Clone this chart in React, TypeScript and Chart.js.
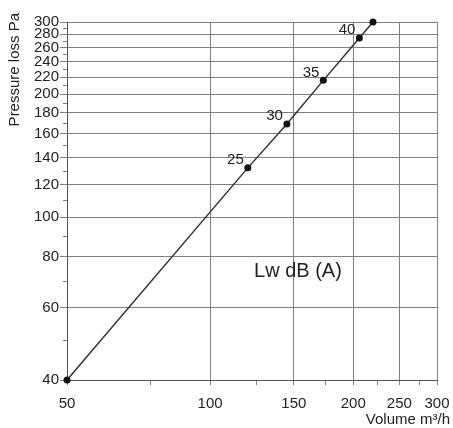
import React, { useEffect, useRef } from "react";
import { Chart, registerables } from "chart.js";

Chart.register(...registerables);

// Data
const volume = [50, 120, 145, 173, 206, 220]; // m³/h
const pressure = [40, 132, 169, 216, 274, 300]; // Pa
const pointLabels = ["", "25", "30", "35", "40", ""]; // Lw dB (A)

const xTicks = [50, 75, 100, 125, 150, 175, 200, 225, 250, 275, 300];
const xLabelled = [50, 100, 150, 200, 250, 300];
const yTicks = [40, 50, 60, 70, 80, 90, 100, 110, 120, 130, 140, 150, 160, 170, 180, 190, 200, 210, 220, 230, 240, 250, 260, 270, 280, 290, 300];
const yLabelled = [40, 60, 80, 100, 120, 140, 160, 180, 200, 220, 240, 260, 280, 300];

const xTitle = "Volume m³/h";
const yTitle = "Pressure loss Pa";
const noteText = "Lw dB (A)";
const noteAt = { x: 153, y: 73.5 };

const FONT = '"Liberation Sans", Arial, sans-serif';
const TEXT = "#222";
const GRID = "#7f7f7f";

export default function App() {
  const ref = useRef<HTMLCanvasElement | null>(null);

  useEffect(() => {
    document.body.style.margin = "0";
    const canvas = ref.current;
    if (!canvas) return;

    const textPlugin = {
      id: "textPlugin",
      afterDraw(chart: any) {
        const ctx = chart.ctx;
        const xs = chart.scales.x;
        const ys = chart.scales.y;
        ctx.save();
        ctx.fillStyle = TEXT;
        // minor y ticks (short)
        ctx.strokeStyle = GRID;
        ctx.lineWidth = 1;
        yTicks.forEach((v) => {
          if (yLabelled.includes(v)) return;
          const py = Math.round(ys.getPixelForValue(v)) + 0.5;
          ctx.beginPath();
          ctx.moveTo(xs.left - 4, py);
          ctx.lineTo(xs.left, py);
          ctx.stroke();
        });
        // point labels
        ctx.font = `15px ${FONT}`;
        ctx.textAlign = "right";
        ctx.textBaseline = "middle";
        const meta = chart.getDatasetMeta(0);
        meta.data.forEach((pt: any, i: number) => {
          const lbl = pointLabels[i];
          if (!lbl) return;
          ctx.fillText(lbl, pt.x - 4, pt.y - 8);
        });
        // note
        ctx.font = `20px ${FONT}`;
        ctx.textAlign = "center";
        ctx.fillText(noteText, xs.getPixelForValue(noteAt.x), ys.getPixelForValue(noteAt.y));
        // x title
        ctx.font = `15px ${FONT}`;
        ctx.textAlign = "right";
        ctx.fillText(xTitle, chart.width - 3, chart.height - 8);
        // y title
        ctx.translate(15, 13);
        ctx.rotate(-Math.PI / 2);
        ctx.textAlign = "right";
        ctx.fillText(yTitle, 0, 0);
        ctx.restore();
      },
    };

    const chart = new Chart(canvas, {
      type: "scatter",
      data: {
        datasets: [
          {
            data: volume.map((v, i) => ({ x: v, y: pressure[i] })),
            showLine: true,
            borderColor: "#333",
            borderWidth: 1.5,
            pointRadius: 3.5,
            pointBackgroundColor: "#111",
            pointBorderWidth: 0,
            clip: false,
          } as any,
        ],
      },
      options: {
        animation: false,
        responsive: true,
        maintainAspectRatio: false,
        layout: { padding: { top: 22, right: 16, left: 0, bottom: 0 } },
        plugins: { legend: { display: false }, tooltip: { enabled: false } },
        scales: {
          x: {
            type: "logarithmic",
            min: 50,
            max: 300,
            afterBuildTicks: (s: any) => {
              s.ticks = xTicks.map((v) => ({ value: v }));
            },
            afterFit: (s: any) => {
              s.height = 48;
              s.paddingLeft = 0;
              s.paddingRight = 0;
            },
            ticks: {
              autoSkip: false,
              maxRotation: 0,
              padding: 10,
              color: TEXT,
              font: { family: FONT, size: 15 },
              callback: (v: any) => (xLabelled.includes(Number(v)) ? String(v) : ""),
            },
            grid: {
              color: (c: any) => (c.tick && xLabelled.includes(c.tick.value) ? GRID : "rgba(0,0,0,0)"),
              tickColor: GRID,
              tickLength: 5,
              lineWidth: 1,
            },
            border: { color: "#555", width: 1 },
          },
          y: {
            type: "logarithmic",
            min: 40,
            max: 300,
            afterBuildTicks: (s: any) => {
              s.ticks = yTicks.map((v) => ({ value: v }));
            },
            afterFit: (s: any) => {
              s.width = 67;
              s.paddingTop = 0;
              s.paddingBottom = 0;
            },
            ticks: {
              autoSkip: false,
              padding: 1,
              color: TEXT,
              font: { family: FONT, size: 15 },
              callback: (v: any) => (yLabelled.includes(Number(v)) ? String(v) : ""),
            },
            grid: {
              color: (c: any) => (c.tick && yLabelled.includes(c.tick.value) ? GRID : "rgba(0,0,0,0)"),
              tickColor: (c: any) => (c.tick && yLabelled.includes(c.tick.value) ? GRID : "rgba(0,0,0,0)"),
              tickLength: 7,
              lineWidth: 1,
            },
            border: { color: "#555", width: 1 },
          },
        },
      },
      plugins: [textPlugin],
    });

    return () => chart.destroy();
  }, []);

  return (
    <div style={{ position: "relative", width: 453, height: 428 }}>
      <canvas ref={ref} />
    </div>
  );
}
